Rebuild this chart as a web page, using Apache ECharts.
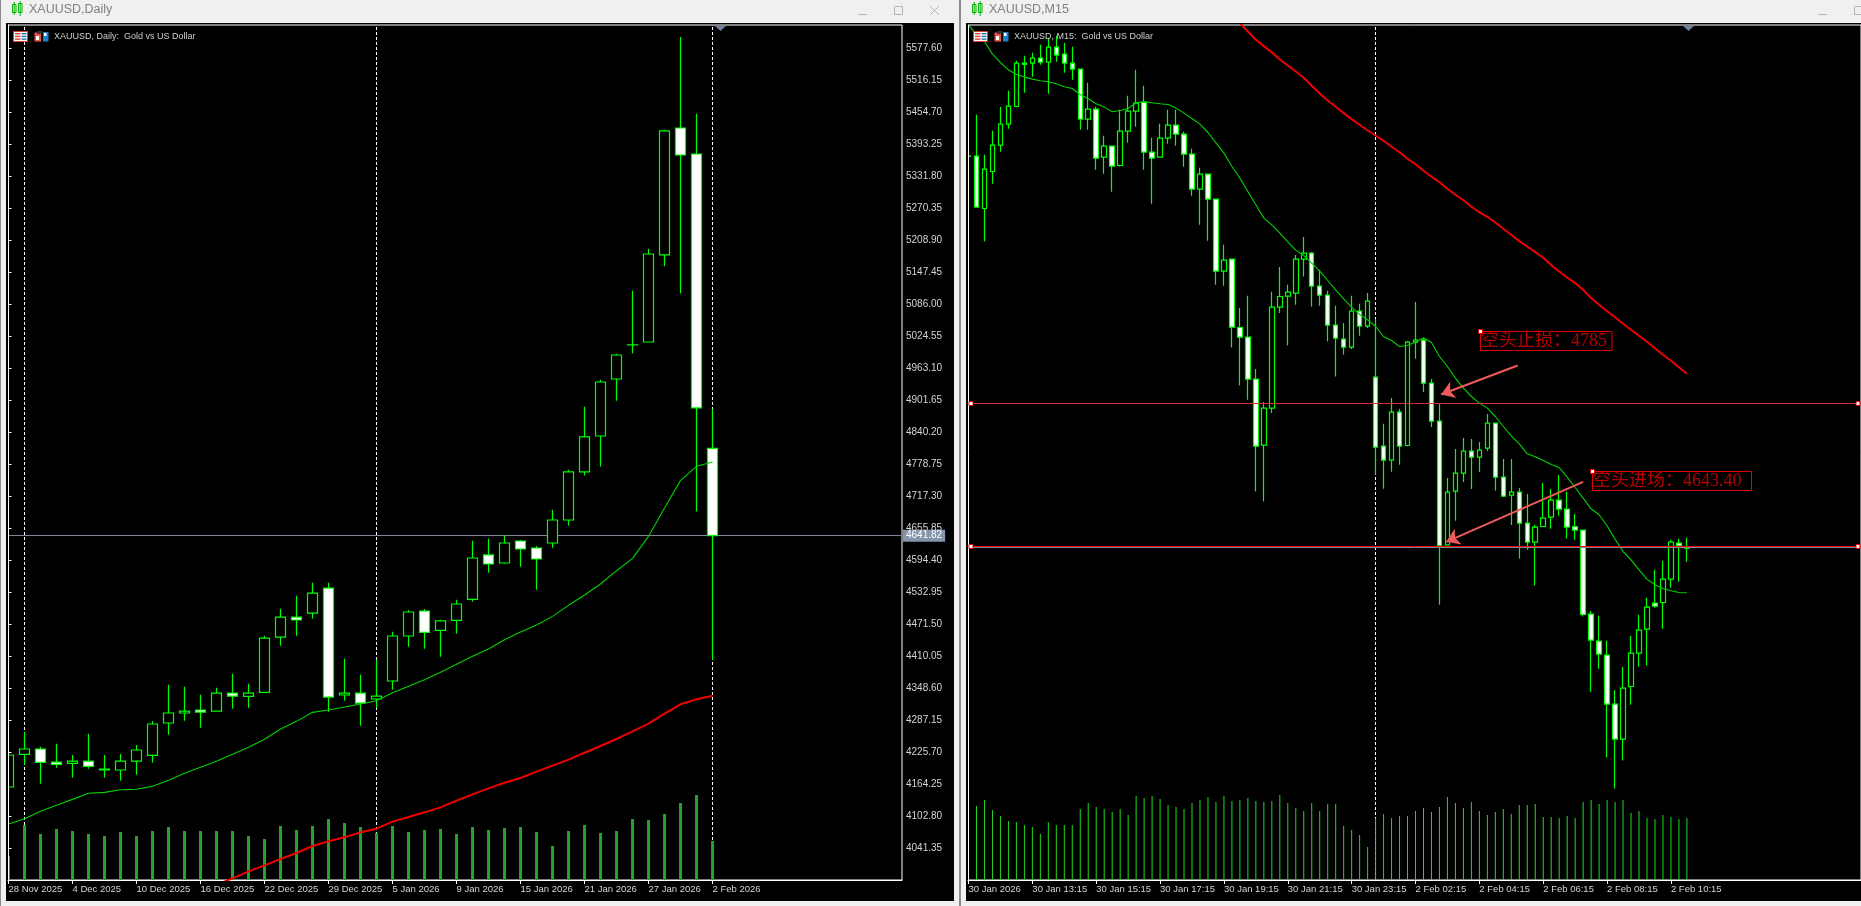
<!DOCTYPE html>
<html>
<head>
<meta charset="utf-8">
<title>XAUUSD</title>
<style>
  html, body { margin: 0; padding: 0; background: #f0f0f0; overflow: hidden; }
  #main { width: 1861px; height: 906px; }
</style>
<script src="https://cdn.jsdelivr.net/npm/echarts@6/dist/echarts.min.js"></script>
</head>
<body>
<div id="main"></div>
<script>
// daily candles: open, close, low, high
var dailyCandles = [
  [4159.2,4220.7,4150,4225],[4222.0,4232.2,4202.1,4265.5],[4232.2,4206.6,4165.6,4236.7],[4207.2,4202.7,4196.3,4242.4],
  [4204.6,4209.1,4177.2,4220.7],[4209.1,4198.9,4194.4,4261.6],[4193.8,4191.9,4177.2,4220.7],[4191.9,4209.1,4171.4,4222.6],
  [4209.1,4230.3,4182.9,4239.8],[4220.0,4280.2,4205.9,4285.9],[4282.1,4301.3,4259.7,4355.7],[4301.3,4305.1,4286.6,4351.9],
  [4307.1,4303.2,4273.1,4336.5],[4305.1,4339.7,4304.5,4349.9],[4339.7,4333.9,4309.6,4376.8],[4333.3,4339.7,4311.5,4357.6],
  [4341.0,4445.3,4341,4449.8],[4447.2,4485.6,4430.6,4501.7],[4485.6,4479.9,4449.8,4526.6],[4493.3,4531.7,4482.4,4551.6],
  [4541.3,4332.0,4303.9,4551.6],[4335.9,4339.7,4325,4405.6],[4339.7,4320.5,4277,4374.9],[4328.2,4333.9,4311.5,4403.7],
  [4362.8,4449.2,4346.1,4457.5],[4449.2,4495.3,4428.7,4499.1],[4497.2,4456.1,4424.8,4501.1],[4460.0,4478.1,4409.5,4480.5],
  [4479.2,4510.7,4453.6,4518.9],[4519.5,4599.0,4515.1,4632.2],[4604.8,4587.5,4570.8,4636.1],[4589.4,4627.8,4588,4641.8],
  [4631.6,4616.3,4582.3,4633.6],[4618.2,4597.1,4538.1,4622],[4627.8,4672.0,4618.8,4691.8],[4672.0,4764.2,4661.6,4768.6],
  [4764.2,4831.4,4757.6,4889.6],[4833.3,4937.0,4774.9,4941.4],[4942.7,4988.8,4901.1,4991.3],[5008.0,5008.5,4991.9,5112.3],
  [5013.8,5182.8,5013,5192.9],[5180.9,5419.0,5159,5421.5],[5424.7,5372.9,5107.1,5599.5],[5374.8,4887.1,4688.5,5452.2],
  [4809.5,4641.82,4403.7,4885.7]
];
var dailyMa = [4088.2,4098.4,4112.5,4124,4135.5,4147.1,4149,4154.1,4154.8,4160.5,4172,4185.5,4197,4208.5,4222,4235.4,
  4250.8,4270.6,4285.3,4302.6,4307.1,4312.9,4318.6,4325,4340.4,4352.5,4365.3,4379.4,4394.8,4410.1,4424.2,4442.1,4456.9,
  4470.3,4486.9,4508.1,4527.9,4549,4574.6,4598.3,4640.6,4695,4748.1,4775,4783.3];
var dailyRedStart = 13;
var dailyRed = [3971.7,3983.8,3997.3,4008.8,4021,4032.5,4045.9,4054.9,4062.6,4072.2,4079.2,4092.7,4101.6,4110.6,4120.2,
  4133,4145.1,4156.7,4167.5,4176.5,4188.7,4200.2,4211.7,4225.1,4238,4251.4,4266.1,4280.8,4300,4318,4327.6,4334.6];
var dailyVol = [24,55,46,51,49,46,44,48,44,49,53,49,49,49,49,44,41,54,50,54,61,57,53,47,54,48,50,51,46,53,50,52,53,48,34,
  49,55,47,49,61,60,66,77,85,39];
var dailyTickLabels = ['28 Nov 2025','4 Dec 2025','10 Dec 2025','16 Dec 2025','22 Dec 2025','29 Dec 2025','5 Jan 2026',
  '9 Jan 2026','15 Jan 2026','21 Jan 2026','27 Jan 2026','2 Feb 2026'];
var dailyPriceTicks = [5577.60,5516.15,5454.70,5393.25,5331.80,5270.35,5208.90,5147.45,5086.00,5024.55,4963.10,4901.65,
  4840.20,4778.75,4717.30,4655.85,4594.40,4532.95,4471.50,4410.05,4348.60,4287.15,4225.70,4164.25,4102.80,4041.35];
var dailySeparators = [1, 23, 44];
var dailyLast = 4641.82;

// M15 candles: open, close, low, high
var m15Candles = [
  [5033.8,5033.6,5033,5034.5],[5033.8,4982.8,4982.8,5075.1],[4981.4,5020.8,4948.4,5035.1],[5018.4,5044.8,5006.1,5059.1],
  [5044.8,5065.8,5038.1,5083.1],[5065.8,5083.8,5061.1,5099.1],[5083.4,5126.8,5083.4,5129.1],[5126.8,5125.6,5097.1,5134.1],
  [5126.8,5131.8,5113.1,5137.1],[5131.8,5127.8,5125.1,5145.1],[5127.8,5142.8,5096.1,5152.1],[5142.8,5134.8,5128.1,5154.1],
  [5135.8,5126.8,5117.1,5147.1],[5126.8,5120.8,5110.1,5143.1],[5120.8,5070.8,5060.1,5121.1],[5070.8,5080.8,5060.1,5107.1],
  [5080.8,5031.8,5020.1,5083.1],[5032.8,5043.8,5016.1,5054.1],[5043.8,5023.8,4998.1,5044.1],[5024.4,5058.8,5023.4,5080.1],
  [5058.8,5078.8,5047.1,5094.1],[5078.8,5086.8,5063.1,5120.1],[5087.8,5037.8,5020.1,5104.1],[5037.8,5031.8,4986.1,5052.1],
  [5032.8,5051.8,5032.6,5066.1],[5051.8,5064.8,5046.1,5080.1],[5064.8,5055.8,5044.1,5080.1],[5055.8,5035.8,5023.1,5058.1],
  [5035.8,5000.8,4994.1,5041.1],[5000.8,5015.8,4965.1,5022.1],[5015.8,4990.8,4949.1,5016.1],[4990.8,4918.8,4905.1,4990.8],
  [4918.8,4929.8,4904.1,4945.1],[4930.8,4862.8,4842.4,4930.8],[4862.4,4852.8,4804.4,4881.8],[4852.8,4810.8,4790.1,4894.1],
  [4810.8,4743.8,4698.4,4820.8],[4744.8,4781.8,4688.4,4787.8],[4781.8,4882.8,4776.8,4898.1],[4882.8,4893.4,4876.8,4922.8],
  [4893.8,4897.8,4844.4,4905.1],[4896.8,4930.8,4885.1,4934.8],[4930.8,4936.8,4913.4,4952.8],[4936.8,4903.8,4883.4,4937.8],
  [4903.8,4894.8,4884.1,4920.1],[4894.8,4864.8,4848.4,4899.1],[4864.8,4851.8,4813.4,4884.1],[4850.8,4842.8,4835.4,4866.8],
  [4842.8,4878.8,4840.8,4894.1],[4878.8,4863.8,4854.1,4886.1],[4863.8,4888.8,4861.8,4896.8],[4812.8,4742.8,4715.1,4870.8],
  [4743.8,4729.8,4701.1,4766.1],[4729.8,4777.8,4718.1,4791.8],[4777.8,4743.8,4725.1,4780.8],[4744.4,4847.8,4743.4,4848.8],
  [4847.8,4849.8,4831.1,4887.8],[4849.8,4806.8,4797.8,4851.4],[4806.8,4768.8,4762.8,4810.8],[4768.8,4644.4,4585.1,4785.8],
  [4645.1,4697.8,4645.1,4711.8],[4698.8,4716.8,4669.1,4740.8],[4716.8,4738.8,4707.8,4751.8],[4738.8,4732.8,4700.8,4750.8],
  [4732.8,4739.8,4717.8,4747.8],[4741.8,4766.8,4738.8,4775.8],[4766.8,4712.8,4699.1,4766.8],[4712.8,4693.8,4692.8,4730.8],
  [4694.8,4697.8,4664.8,4730.8],[4697.8,4666.8,4631.4,4701.8],[4666.8,4647.8,4640.1,4695.8],[4647.8,4662.8,4604.4,4665.1],
  [4663.4,4671.8,4662.8,4706.8],[4672.8,4689.8,4661.1,4700.8],[4689.8,4680.8,4674.1,4714.8],[4680.8,4662.8,4651.4,4698.1],
  [4663.4,4659.8,4650.1,4675.8],[4659.8,4575.4,4573.4,4659.8],[4575.8,4549.8,4498.1,4578.8],[4548.8,4535.8,4521.1,4574.1],
  [4534.8,4485.8,4432.4,4549.1],[4485.8,4450.8,4401.4,4499.8],[4450.8,4501.8,4429.4,4522.8],[4503.4,4536.8,4485.1,4553.8],
  [4536.8,4559.8,4523.1,4575.1],[4560.8,4582.8,4524.4,4592.1],[4586.8,4583.8,4582.1,4620.1],[4587.4,4610.8,4561.1,4629.1],
  [4610.8,4647.8,4602.1,4650.1],[4646.8,4644.1,4608.1,4651.1],[4642.3,4641.8,4628.1,4652.1]
];
var m15Ma = [5165.1,5155.1,5148.4,5135.8,5127.4,5120.1,5115.4,5112.8,5110.8,5109.1,5108.1,5106.1,5103.1,5101.4,5095.4,5091.1,
  5086.1,5082.8,5078.1,5079.4,5081.4,5087.1,5088.1,5087.1,5086.1,5085.4,5081.8,5076.8,5071.4,5065.8,5057.4,5047.1,5036.8,
  5023.4,5011.8,4998.4,4985.1,4971.8,4965.1,4956.8,4948.1,4939.8,4934.4,4926.8,4918.8,4909.4,4900.1,4891.1,4882.8,4875.4,
  4870.1,4863.4,4853.4,4849.4,4843.4,4844.4,4847.8,4852.1,4847.4,4833.4,4823.4,4811.8,4801.8,4793.4,4786.8,4781.8,4773.4,
  4763.4,4754.1,4746.1,4736.1,4733.1,4729.4,4725.4,4722.4,4712.8,4702.4,4691.8,4681.1,4675.1,4664.1,4650.8,4638.4,4630.1,
  4620.1,4610.8,4605.1,4601.4,4599.1,4597.4,4597.1];
var m15RedStart = 33;
var m15Red = [5175,5166.8,5158.4,5150.1,5143.8,5137.4,5130.4,5124.4,5118.4,5112.1,5104.1,5096.4,5089.4,5083.1,5076.8,5070.8,
  5065.1,5059.4,5054.4,5049.1,5043.1,5037.6,5031.1,5025.6,5019.1,5013.1,5007.6,5001.1,4995.1,4989.6,4983.1,4977.6,4973.1,
  4967.4,4961.1,4955.1,4948.8,4943.4,4937.8,4932.1,4924.8,4918.4,4912.4,4906.8,4900.1,4891.8,4885.1,4878.6,4872.6,4866.1,
  4860.1,4854.1,4848.1,4841.6,4835.1,4829.1,4822.6,4816.1];
var m15Vol = [0,74,80,70,64,59,58,55,53,46,58,55,55,55,71,77,73,71,68,71,65,84,82,84,81,75,73,71,77,80,83,78,84,79,80,82,79,78,
  79,85,77,72,69,77,69,76,76,54,50,45,33,62,66,62,64,64,69,72,68,73,83,77,72,78,69,65,68,71,66,75,75,76,63,63,62,64,62,78,80,
  76,80,78,80,67,69,62,61,65,63,61,62];
var m15TickLabels = ['30 Jan 2026','30 Jan 13:15','30 Jan 15:15','30 Jan 17:15','30 Jan 19:15','30 Jan 21:15','30 Jan 23:15',
  '2 Feb 02:15','2 Feb 04:15','2 Feb 06:15','2 Feb 08:15','2 Feb 10:15'];
var m15Separators = [51];
var m15Last = 4642.2;
var stopLevel = 4786.8;
var entryLevel = 4643.4;
// arrows: [bar, price] from -> to
var stopArrow = [[68.8, 4824.4], [59.2, 4795.4]];
var entryArrow = [[77.0, 4708.1], [59.85, 4648.1]];

var UI_FONT = '"Liberation Sans", "Noto Sans", sans-serif';
var GREEN = '#00ff00';

function range(n, step) {
  var out = [];
  for (var i = 0; i < n; i++) out.push(i * step);
  return out;
}
function withIndex(arr, start) {
  return arr.map(function (v, i) { return [i + start, v]; });
}
function vlines(list) {
  return {
    silent: true, symbol: 'none', z: 1, animation: false,
    lineStyle: { color: '#fff', type: [3, 2], width: 1 },
    label: { show: false },
    data: list.map(function (v) { return { xAxis: v }; })
  };
}

function xAxisFor(grid, min, max, step, labels) {
  return {
    type: 'value', gridIndex: grid, min: min, max: max, silent: true,
    splitLine: { show: false },
    axisLine: { onZero: false, lineStyle: { color: '#fff', width: 1 } },
    axisTick: { show: true, length: 4, lineStyle: { color: '#fff' }, customValues: range(labels.length, step) },
    axisLabel: {
      color: '#d4d4d4', fontSize: 9.5, fontFamily: UI_FONT, align: 'left', margin: 4,
      customValues: range(labels.length, step),
      formatter: function (v) { return labels[Math.round(v / step)]; }
    }
  };
}

function candleSeries(x, y, data, width) {
  return {
    type: 'candlestick', xAxisIndex: x, yAxisIndex: y, barWidth: width, silent: true, z: 3,
    itemStyle: { color: '#000', color0: '#fff', borderColor: GREEN, borderColor0: GREEN, borderColorDoji: GREEN, borderWidth: 1.2 },
    data: data.map(function (c, i) { return [i, c[0], c[1], c[2], c[3]]; })
  };
}
function lineSeries(x, y, data, color, width, extra) {
  var s = {
    type: 'line', xAxisIndex: x, yAxisIndex: y, showSymbol: false, symbol: 'none', silent: true, z: 4,
    lineStyle: { color: color, width: width }, data: data
  };
  if (extra) s.markLine = extra;
  return s;
}

// window chrome
var gfx = [];
function rect(x, y, w, h, fill, z, stroke) {
  gfx.push({ type: 'rect', silent: true, z: z === undefined ? -1 : z, shape: { x: x, y: y, width: w, height: h },
    style: { fill: fill, stroke: stroke || null, lineWidth: 1 } });
}
function seg(x1, y1, x2, y2, color, w) {
  gfx.push({ type: 'line', silent: true, z: 25, shape: { x1: x1, y1: y1, x2: x2, y2: y2 }, style: { stroke: color, lineWidth: w || 1 } });
}
function text(x, y, s, font, fill, z) {
  gfx.push({ type: 'text', silent: true, z: z || 25, style: { x: x, y: y, text: s, font: font, fill: fill, verticalAlign: 'middle' } });
}
function candleIcon(x) {
  rect(x + 0.5, 4.5, 3.5, 8, 'none', 25, '#00b000');
  seg(x + 2.2, 2, x + 2.2, 15, '#00b000');
  rect(x + 6.5, 3.5, 3.5, 9, 'none', 25, '#00b000');
  seg(x + 8.2, 1, x + 8.2, 16, '#00b000');
}
function headerIcons(x) {
  rect(x + 0.5, 31.5, 14, 10, '#fff', 25, '#d8402c');
  for (var i = 0; i < 3; i++) {
    rect(x + 2, 33 + i * 2.7, 5.5, 1.4, '#d8402c', 26);
    rect(x + 8.5, 33 + i * 2.7, 5, 1.4, '#1c6fb5', 26);
  }
  rect(x + 21.5, 32.5, 6.5, 9, '#f05545', 25);
  rect(x + 23, 36, 3, 4, '#fff', 26);
  rect(x + 24, 31, 5, 3, '#333', 25);
  rect(x + 30, 32, 5.5, 9.5, '#1c80c8', 25);
  rect(x + 31, 33, 2.5, 3, '#fff', 26);
}
function handle(x, y) {
  rect(x - 2, y - 2, 4, 4, '#fff', 27, '#e00000');
}

rect(0, 0, 1, 906, '#8c8c8c');
rect(959, 0, 2, 906, '#8c8c8c');
rect(6, 23, 948, 878, '#000');
rect(966, 23, 895, 878, '#000');

// keep first bars inside the plot frame
rect(1, 25, 5, 855, '#f0f0f0', 20);
rect(6, 25, 2, 855, '#000', 20);
seg(8.5, 25, 8.5, 880, '#fff');
rect(966, 25, 2, 855, '#000', 20);
seg(968.5, 25, 968.5, 880, '#fff');

candleIcon(12);
candleIcon(972);
text(29, 10, 'XAUUSD,Daily', '12.5px ' + UI_FONT, '#808080');
text(989, 10, 'XAUUSD,M15', '12.5px ' + UI_FONT, '#808080');
seg(858, 14.5, 867, 14.5, '#b4b4b4');
rect(894.5, 6.5, 8, 8, 'none', 25, '#b4b4b4');
seg(930, 6, 939, 15, '#b4b4b4');
seg(939, 6, 930, 15, '#b4b4b4');
seg(1818, 14.5, 1827, 14.5, '#b4b4b4');
rect(1854.5, 6.5, 8, 8, 'none', 25, '#b4b4b4');

headerIcons(13);
headerIcons(973);
text(54, 36.5, 'XAUUSD, Daily:  Gold vs US Dollar', '9px ' + UI_FONT, '#cfcfcf');
text(1014, 36.5, 'XAUUSD, M15:  Gold vs US Dollar', '9px ' + UI_FONT, '#cfcfcf');

gfx.push({ type: 'polygon', silent: true, z: 25, shape: { points: [[715, 26], [726, 26], [720.5, 31]] }, style: { fill: '#6d7f99' } });
gfx.push({ type: 'polygon', silent: true, z: 25, shape: { points: [[1683, 26], [1694, 26], [1688.5, 31]] }, style: { fill: '#6d7f99' } });

// annotations on the M15 chart
var NOTE_FONT = '18px "Liberation Serif", "Noto Sans CJK SC", serif';
rect(1480.5, 331.5, 131.5, 19, '#000', 24, '#e00000');
text(1481, 341.5, '空头止损：4785', NOTE_FONT, '#b80000', 26);
rect(1592.5, 471.5, 159, 19, '#000', 24, '#e00000');
text(1593, 481.5, '空头进场：4643.40', NOTE_FONT, '#b80000', 26);
handle(1480.5, 331.5);
handle(1592.5, 471.5);
handle(971, 403.5);
handle(1858, 403.5);
handle(971, 546.5);
handle(1858, 546.5);

var chart = echarts.init(document.getElementById('main'), null, { renderer: 'canvas' });

var option = {
  animation: false,
  backgroundColor: '#f0f0f0',
  graphic: { elements: gfx },
  tooltip: { show: false },
  grid: [
    { left: 8, top: 25, width: 894, height: 855, show: true, borderColor: '#fff', borderWidth: 1, backgroundColor: 'transparent' },
    { left: 968, top: 25, width: 895, height: 855, show: true, borderColor: '#fff', borderWidth: 1, backgroundColor: 'transparent' }
  ],
  xAxis: [
    xAxisFor(0, -0.03125, 55.84, 4, dailyTickLabels),
    xAxisFor(1, -0.0625, 111.81, 8, m15TickLabels)
  ],
  yAxis: [
    {
      type: 'value', gridIndex: 0, position: 'right', min: 3980.66, max: 5622.5, silent: true,
      splitLine: { show: false },
      axisLine: { show: true, lineStyle: { color: '#fff' } },
      axisTick: { show: true, length: 3, lineStyle: { color: '#fff' }, customValues: dailyPriceTicks },
      axisLabel: {
        color: '#d4d4d4', fontSize: 10, fontFamily: UI_FONT, margin: 4, padding: [4, 0, 0, 0], customValues: dailyPriceTicks,
        formatter: function (v) { return v.toFixed(2); }
      }
    },
    { type: 'value', gridIndex: 0, min: 0, max: 855, show: false, splitLine: { show: false } },
    { type: 'value', gridIndex: 1, min: 4309.9, max: 5164.9, show: false, splitLine: { show: false } },
    { type: 'value', gridIndex: 1, min: 0, max: 855, show: false, splitLine: { show: false } }
  ],
  series: [
    {
      type: 'bar', xAxisIndex: 0, yAxisIndex: 1, barWidth: 3, silent: true, z: 2,
      itemStyle: { color: '#27a327' }, data: withIndex(dailyVol, 0), markLine: vlines(dailySeparators)
    },
    candleSeries(0, 0, dailyCandles, 11),
    lineSeries(0, 0, withIndex(dailyMa, 0), '#00d200', 1.1, {
      silent: true, symbol: 'none', z: 2, animation: false,
      lineStyle: { color: '#7f8896', type: 'solid', width: 1 },
      label: {
        show: true, position: 'end', distance: 1, color: '#fff', backgroundColor: '#8494ab',
        fontSize: 10, fontFamily: UI_FONT, padding: [1, 3, 1, 3],
        formatter: function () { return dailyLast.toFixed(2); }
      },
      data: [{ yAxis: dailyLast }]
    }),
    lineSeries(0, 0, withIndex(dailyRed, dailyRedStart), '#f00000', 2),

    {
      type: 'bar', xAxisIndex: 1, yAxisIndex: 3, barWidth: 1, silent: true, z: 2,
      itemStyle: { color: '#20dd20' }, data: withIndex(m15Vol, 0), markLine: vlines(m15Separators)
    },
    candleSeries(1, 2, m15Candles, 5),
    lineSeries(1, 2, withIndex(m15Ma, 0), '#00d200', 1.1, {
      silent: true, symbol: 'none', z: 6, animation: false,
      label: { show: false },
      data: [
        { yAxis: m15Last, lineStyle: { color: '#7f8896', width: 1, type: 'solid' } },
        { yAxis: stopLevel, lineStyle: { color: '#d83030', width: 1, type: 'solid' } },
        { yAxis: entryLevel, lineStyle: { color: '#ff0000', width: 1, type: 'solid' } }
      ]
    }),
    lineSeries(1, 2, withIndex(m15Red, m15RedStart), '#f00000', 2, {
      silent: true, symbol: ['none', 'arrow'], symbolSize: 13, z: 7, animation: false,
      lineStyle: { color: '#f05a5a', width: 2, type: 'solid' },
      label: { show: false },
      data: [
        [{ coord: stopArrow[0] }, { coord: stopArrow[1] }],
        [{ coord: entryArrow[0] }, { coord: entryArrow[1] }]
      ]
    })
  ]
};
chart.setOption(option);
</script>
</body>
</html>
